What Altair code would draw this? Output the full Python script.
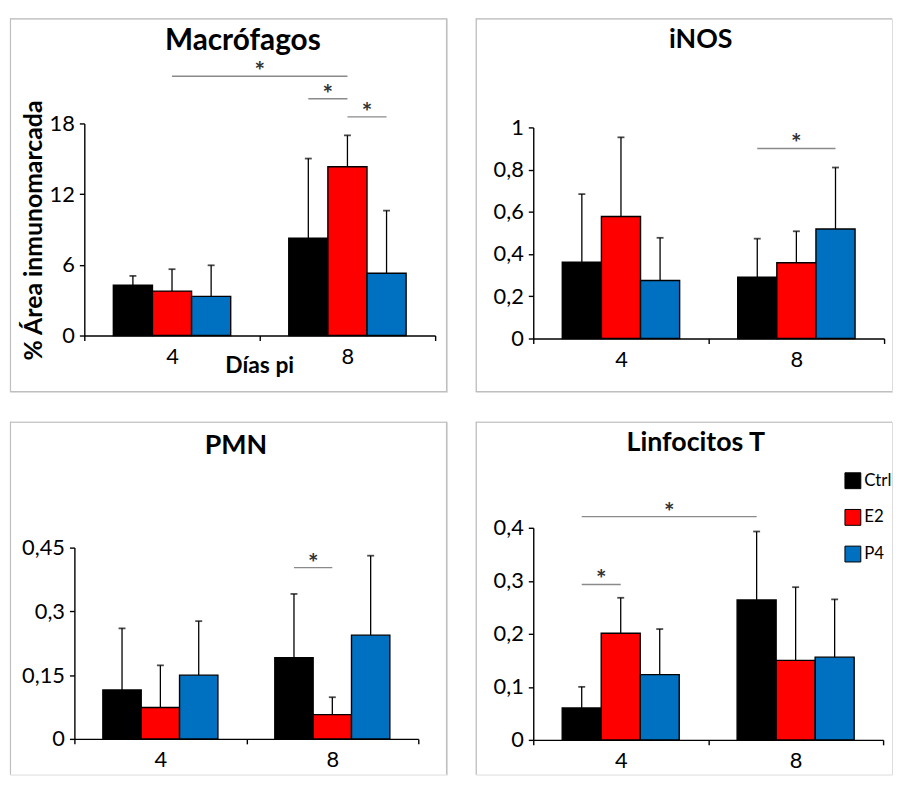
import altair as alt
import pandas as pd

days = ["4", "8"]
groups = ["Ctrl", "E2", "P4"]
colors = ["#000000", "#ff0000", "#0070c0"]

# values per group (Ctrl, E2, P4), per day (4, 8)
mac_mean = [[4.28, 8.27], [3.77, 14.32], [3.32, 5.29]]
mac_upper = [[5.06, 15.02], [5.63, 16.99], [5.96, 10.60]]
mac_sig = [("4", "E2", "8", "E2", 22.0), ("8", "Ctrl", "8", "E2", 20.1), ("8", "E2", "8", "P4", 18.56)]
mac_ticks = [0, 6, 12, 18]

inos_mean = [[0.361, 0.291], [0.578, 0.359], [0.275, 0.519]]
inos_upper = [[0.684, 0.473], [0.953, 0.508], [0.477, 0.810]]
inos_sig = [("8", "Ctrl", "8", "P4", 0.90)]
inos_ticks = [0, 0.2, 0.4, 0.6, 0.8, 1]

pmn_mean = [[0.115, 0.191], [0.074, 0.057], [0.150, 0.244]]
pmn_upper = [[0.260, 0.341], [0.173, 0.098], [0.277, 0.431]]
pmn_sig = [("8", "Ctrl", "8", "E2", 0.403)]
pmn_ticks = [0, 0.15, 0.3, 0.45]

lin_mean = [[0.060, 0.264], [0.201, 0.150], [0.123, 0.156]]
lin_upper = [[0.100, 0.393], [0.268, 0.288], [0.209, 0.265]]
lin_sig = [("4", "Ctrl", "8", "Ctrl", 0.421), ("4", "Ctrl", "4", "E2", 0.293)]
lin_ticks = [0, 0.1, 0.2, 0.3, 0.4]

FONT = "Lato"
BAR_W = 0.223
FRAME = "#bfbfbf"
SIG = "#8a8a8a"


def panel(title, mean, upper, sig, yticks, W, H, xr, yr, title_pos, title_size, sides,
          legend=False, ytitle=None, xtitle=None):
    rows = []
    for gi, g in enumerate(groups):
        for di, d in enumerate(days):
            rows.append({"day": d, "di": di, "group": g, "gi": gi,
                         "mean": mean[gi][di], "upper": upper[gi][di]})
    df = pd.DataFrame(rows)

    xs = alt.Scale(domain=[0, len(days)], range=xr, nice=False, zero=False)
    ys = alt.Scale(domain=[yticks[0], yticks[-1]], range=yr, nice=False, zero=False)

    lab = "''"
    for di in reversed(range(len(days))):
        lab = f"(datum.value == {di + 0.5} ? '{days[di]}' : {lab})"

    xaxis = alt.Axis(
        values=[i * 0.5 for i in range(2 * len(days) + 1)],
        labelExpr=lab, title=None, grid=False,
        domainColor="black", domainWidth=1.4, tickColor="black", tickWidth=1.4,
        tickSize=5, tickOpacity={"condition": {"test": "datum.value % 1 != 0", "value": 0}, "value": 1},
        labelFont=FONT, labelFontSize=22, labelColor="black", labelPadding=6,
        labelFlush=False, labelOverlap=False, offset=yr[0] - H,
    )
    yaxis = alt.Axis(
        values=yticks, labelExpr="replace(toString(datum.value), '.', ',')",
        title=None, grid=False,
        domainColor="black", domainWidth=1.4, tickColor="black", tickWidth=1.4,
        tickSize=5, labelFont=FONT, labelFontSize=22, labelColor="black",
        labelPadding=5, labelFlush=False, labelOverlap=False, offset=-xr[0],
    )

    base = alt.Chart(df).transform_calculate(
        xc=f"datum.di + 0.5 + (datum.gi - 1) * {BAR_W}"
    ).transform_calculate(
        xl=f"datum.xc - {BAR_W / 2}", xr=f"datum.xc + {BAR_W / 2}"
    )

    if legend:
        leg = alt.Legend(
            orient="none", legendX=372, legendY=51, title=None,
            symbolType="square", symbolSize=256, symbolStrokeColor="black",
            symbolStrokeWidth=1, labelFont=FONT, labelFontSize=17, labelColor="black",
            rowPadding=16, labelOffset=3, padding=0, symbolOpacity=1,
        )
    else:
        leg = None

    color = alt.Color("group:N", scale=alt.Scale(domain=groups, range=colors), legend=leg)

    bars = base.mark_rect(stroke="black", strokeWidth=1.4).encode(
        x=alt.X("xl:Q", scale=xs, axis=xaxis),
        x2="xr:Q",
        y=alt.Y("mean:Q", scale=ys, axis=yaxis),
        y2=alt.datum(0),
        color=color,
    )
    err = base.mark_rule(color="black", strokeWidth=1.3).encode(
        x=alt.X("xc:Q", scale=xs), y=alt.Y("mean:Q", scale=ys), y2="upper:Q"
    )
    caps = base.mark_tick(orient="horizontal", size=7, thickness=1.8, color="black").encode(
        x=alt.X("xc:Q", scale=xs), y=alt.Y("upper:Q", scale=ys)
    )

    srows = []
    for d1, g1, d2, g2, yv in sig:
        srows.append({"d1": days.index(d1), "g1": groups.index(g1),
                      "d2": days.index(d2), "g2": groups.index(g2), "y": yv})
    sdf = pd.DataFrame(srows)
    sbase = alt.Chart(sdf).transform_calculate(
        x1=f"datum.d1 + 0.5 + (datum.g1 - 1) * {BAR_W}",
        x2=f"datum.d2 + 0.5 + (datum.g2 - 1) * {BAR_W}",
    ).transform_calculate(xm="(datum.x1 + datum.x2) / 2")
    brk = sbase.mark_rule(color=SIG, strokeWidth=1.4).encode(
        x=alt.X("x1:Q", scale=xs), x2="x2:Q", y=alt.Y("y:Q", scale=ys)
    )
    stars = sbase.mark_text(text="*", font=FONT, fontSize=25, fontWeight="bold",
                            color="#333333", baseline="alphabetic", dy=4).encode(
        x=alt.X("xm:Q", scale=xs), y=alt.Y("y:Q", scale=ys)
    )

    one = pd.DataFrame({"k": [0]})
    layers = []
    fr = alt.Chart(one).mark_rule(color=FRAME, strokeWidth=1.2)
    if "top" in sides:
        layers.append(fr.encode(x=alt.value(0), x2=alt.value(W), y=alt.value(0.5)))
    if "left" in sides:
        layers.append(fr.encode(x=alt.value(0.5), y=alt.value(0), y2=alt.value(H)))
    if "right" in sides:
        layers.append(fr.encode(x=alt.value(W - 0.5), y=alt.value(0), y2=alt.value(H)))
    if "bottom" in sides:
        layers.append(fr.encode(x=alt.value(0), x2=alt.value(W), y=alt.value(H - 0.5)))

    ttl = alt.Chart(pd.DataFrame({"t": [title]})).mark_text(
        font=FONT, fontSize=title_size, fontWeight="bold", color="black",
        align="center", baseline="alphabetic"
    ).encode(text="t:N", x=alt.value(title_pos[0]), y=alt.value(title_pos[1]))

    layers += [bars, err, caps, brk, stars, ttl]

    if ytitle:
        layers.append(alt.Chart(pd.DataFrame({"t": [ytitle[0]]})).mark_text(
            font=FONT, fontSize=25, fontWeight="bold", color="black",
            align="center", baseline="alphabetic", angle=270
        ).encode(text="t:N", x=alt.value(ytitle[1]), y=alt.value(ytitle[2])))
    if xtitle:
        layers.append(alt.Chart(pd.DataFrame({"t": [xtitle[0]]})).mark_text(
            font=FONT, fontSize=23, fontWeight="bold", color="black",
            align="center", baseline="alphabetic"
        ).encode(text="t:N", x=alt.value(xtitle[1]), y=alt.value(xtitle[2])))

    return alt.layer(*layers).properties(width=W, height=H)


TOP_H = 377
BOT_H = 356
LEFT_W = 441
RIGHT_W = 420

p1 = panel("Macrófagos", mac_mean, mac_upper, mac_sig, mac_ticks, LEFT_W, TOP_H,
           [75, 429], [320, 106], (235, 32), 30, ["top", "left", "right", "bottom"],
           ytitle=("% Área inmunomarcada", 32, 214), xtitle=("Días pi", 252, 358))
p2 = panel("iNOS", inos_mean, inos_upper, inos_sig, inos_ticks, RIGHT_W, TOP_H,
           [58, 412], [323, 110], (227, 30), 27, ["top", "left", "bottom"])
p3 = panel("PMN", pmn_mean, pmn_upper, pmn_sig, pmn_ticks, LEFT_W, BOT_H,
           [65, 412], [320, 127], (228, 33), 27, ["top", "left", "right"])
p4 = panel("Linfocitos T", lin_mean, lin_upper, lin_sig, lin_ticks, RIGHT_W, BOT_H,
           [58, 411], [321, 107], (222, 30), 27, ["top", "left"], legend=True)

res = dict(x="independent", y="independent", color="independent")
top = alt.hconcat(p1, p2, spacing=25).resolve_scale(**res)
bot = alt.hconcat(p3, p4, spacing=25).resolve_scale(**res)
chart = alt.vconcat(top, bot, spacing=26).resolve_scale(**res).properties(
    padding={"left": 0, "top": 5, "right": 0, "bottom": 0}
).configure_view(stroke=None).configure(background="white")

chart.save("out.html", embed_options={"renderer": "svg", "actions": False})
